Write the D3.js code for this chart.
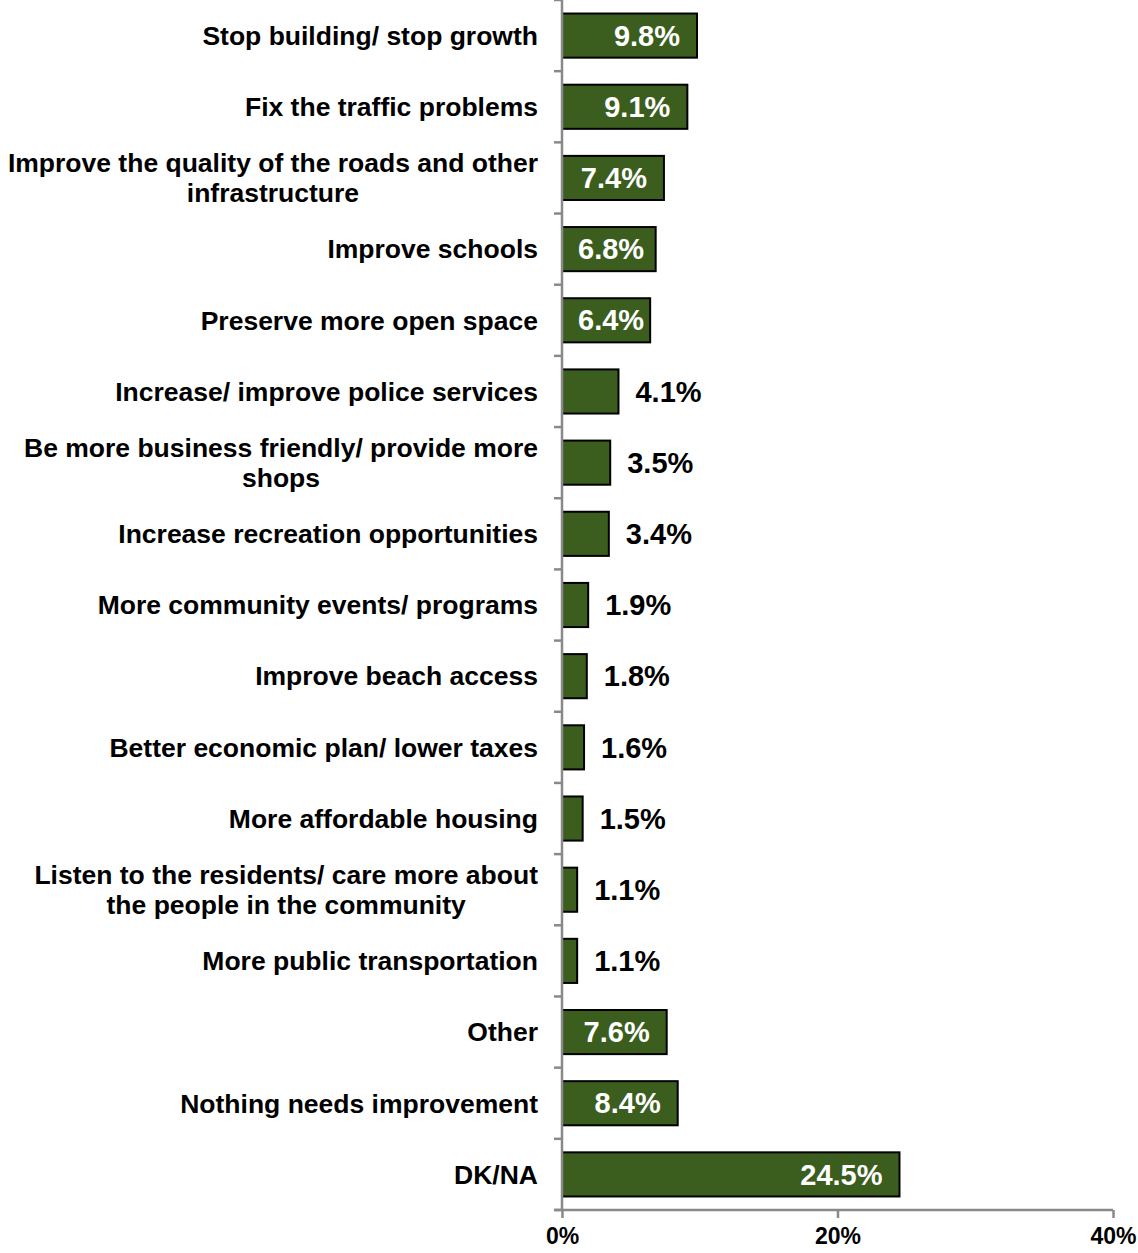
<!DOCTYPE html>
<html>
<head>
<meta charset="utf-8">
<script src="https://cdn.jsdelivr.net/npm/d3@7"></script>
<style>
  html, body { margin: 0; padding: 0; background: #fff; }
  svg { display: block; font-family: "Liberation Sans", Arial, sans-serif; font-weight: bold; }
</style>
</head>
<body>
<svg id="chart" width="1138" height="1253"></svg>
<script>
// Survey responses: what should be improved (share of respondents, %)
const categories = [
  ["Stop building/ stop growth"],
  ["Fix the traffic problems"],
  ["Improve the quality of the roads and other", "infrastructure"],
  ["Improve schools"],
  ["Preserve more open space"],
  ["Increase/ improve police services"],
  ["Be more business friendly/ provide more", "shops"],
  ["Increase recreation opportunities"],
  ["More community events/ programs"],
  ["Improve beach access"],
  ["Better economic plan/ lower taxes"],
  ["More affordable housing"],
  ["Listen to the residents/ care more about", "the people in the community"],
  ["More public transportation"],
  ["Other"],
  ["Nothing needs improvement"],
  ["DK/NA"]
];
const values = [9.8, 9.1, 7.4, 6.8, 6.4, 4.1, 3.5, 3.4, 1.9, 1.8, 1.6, 1.5, 1.1, 1.1, 7.6, 8.4, 24.5];
const xTicks = [0, 20, 40];
const insideThreshold = 5;

const svg = d3.select("#chart");
const plotLeft = 562, plotRight = 1113, plotTop = 0, plotBottom = 1210;

const keys = categories.map(c => c.join(" "));
const x = d3.scaleLinear().domain([0, 40]).range([plotLeft, plotRight]);
const y = d3.scaleBand().domain(keys).range([plotTop, plotBottom]).paddingInner(0.38).paddingOuter(0.19);

const axisColor = "#898989";

// Bars
svg.append("g").selectAll("rect")
  .data(values)
  .join("rect")
  .attr("x", x(0))
  .attr("y", (d, i) => y(keys[i]))
  .attr("width", d => x(d) - x(0))
  .attr("height", y.bandwidth())
  .attr("fill", "#3b5e1f")
  .attr("stroke", "#000")
  .attr("stroke-width", 2);

// Category axis: line plus ticks at band boundaries
const yAxisG = svg.append("g");
yAxisG.append("line")
  .attr("x1", plotLeft).attr("x2", plotLeft)
  .attr("y1", plotTop).attr("y2", plotBottom)
  .attr("stroke", axisColor).attr("stroke-width", 2.5);
const boundaries = d3.range(keys.length + 1).map(i => plotTop + i * y.step());
yAxisG.selectAll("line.tick")
  .data(boundaries)
  .join("line")
  .attr("class", "tick")
  .attr("x1", plotLeft - 8).attr("x2", plotLeft)
  .attr("y1", d => d).attr("y2", d => d)
  .attr("stroke", axisColor).attr("stroke-width", 2.5);

// Category labels: right-aligned block, multi-line labels centred within it
const labelRight = 538, lineH = 30;
categories.forEach((lines, i) => {
  const cy = y(keys[i]) + y.bandwidth() / 2;
  const g = svg.append("g");
  const texts = lines.map((t, j) => g.append("text")
    .attr("font-size", 26.5)
    .attr("fill", "#000")
    .attr("dy", "0.35em")
    .attr("y", cy + (j - (lines.length - 1) / 2) * lineH)
    .text(t));
  const widths = texts.map(t => t.node().getComputedTextLength());
  const maxW = d3.max(widths);
  texts.forEach(t => t.attr("text-anchor", "middle").attr("x", labelRight - maxW / 2));
});

// Value labels
values.forEach((v, i) => {
  const cy = y(keys[i]) + y.bandwidth() / 2;
  const t = svg.append("text")
    .attr("font-size", 29)
    .attr("dy", "0.35em")
    .attr("y", cy)
    .text(v.toFixed(1) + "%");
  const w = t.node().getComputedTextLength();
  if (v >= insideThreshold) {
    const xEnd = Math.max(x(v) - 17, x(0) + 16 + w);
    t.attr("fill", "#fff").attr("text-anchor", "end").attr("x", xEnd);
  } else {
    t.attr("fill", "#000").attr("text-anchor", "start").attr("x", x(v) + 17);
  }
});

// Value axis
const xAxis = d3.axisBottom(x).tickValues(xTicks).tickFormat(d => d + "%").tickSize(8).tickPadding(10);
const xg = svg.append("g").attr("transform", `translate(0,${plotBottom})`).call(xAxis);
xg.select(".domain").attr("stroke", axisColor).attr("stroke-width", 2.5)
  .attr("d", `M${plotLeft - 8},0H${plotRight}`);
xg.selectAll(".tick line").attr("stroke", axisColor).attr("stroke-width", 2.5);
xg.selectAll(".tick text")
  .attr("fill", "#000")
  .attr("font-size", 23)
  .attr("font-family", "Liberation Sans, Arial, sans-serif")
  .attr("font-weight", "bold");
</script>
</body>
</html>
